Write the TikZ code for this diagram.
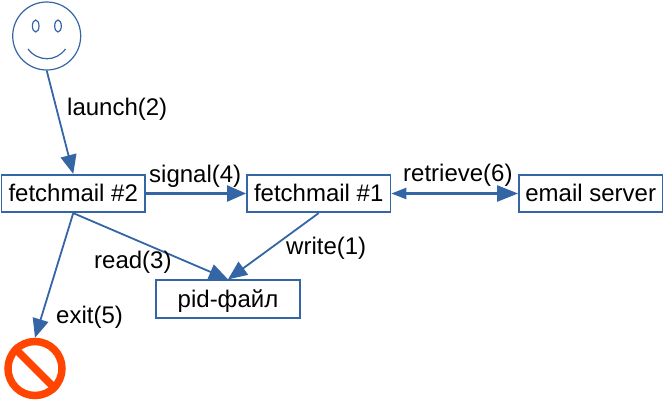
\documentclass[tikz,border=0pt]{standalone}
\usepackage{fontspec}
\setmainfont{Liberation Sans}
\usetikzlibrary{arrows.meta}
\definecolor{lineblue}{HTML}{3465A4}
\definecolor{stoporange}{HTML}{FF4500}
\tikzset{
  x=1pt,y=-1pt,
  boxnode/.style={draw=lineblue,line width=1.7pt,fill=white,inner sep=0pt,minimum width=143.5pt,minimum height=37.5pt,text height=19pt,text depth=2.6pt,font=\fontsize{24}{28}\selectfont},
  lbl/.style={anchor=base west,inner sep=0pt,font=\fontsize{24}{28}\selectfont},
  conn/.style={draw=lineblue,line width=1.8pt,-{Triangle[length=19pt,width=16pt]}},
  flat/.style={draw=lineblue,line width=2.2pt,-{Triangle[length=19pt,width=16pt]}},
  twoway/.style={draw=lineblue,line width=2.2pt,{Triangle[length=15pt,width=11pt]}-{Triangle[length=21pt,width=16pt]}},
  face/.style={draw=lineblue,line width=1.2pt},
  stopring/.style={circle,draw=stoporange,line width=7.5pt,minimum size=54pt,inner sep=0pt}
}
\begin{document}
\begin{tikzpicture}
\useasboundingbox (0,0) rectangle (663,401);
\node[circle,face,minimum size=68pt,inner sep=0pt] (smile) at (46.7,36) {};
\draw[face] (35.7,26) ellipse [x radius=3.3,y radius=6];
\draw[face] (58,26) ellipse [x radius=3.3,y radius=6];
\draw[face] (28,49) .. controls (38,62) and (56,62) .. (65.5,49);
\node[boxnode] (f2) at (73.25,193.5) {fetchmail \#2};
\node[boxnode] (f1) at (318.7,193.5) {fetchmail \#1};
\node[boxnode] (mail) at (590.7,193.5) {email server};
\node[boxnode] (pid) at (228,299) {pid-файл};
\node[stopring] (stop) at (35,368.5) {};
\draw[stoporange,line width=7.5pt] (stop.north west) -- (stop.south east);
\draw[conn] (smile.south) -- (f2.north);
\draw[flat] (f2.east) -- (f1.west);
\draw[twoway] (f1.east) -- (mail.west);
\draw[conn] (f2.south) -- (pid.north);
\draw[conn] (f1.south) -- (pid.north);
\draw[conn] (f2.south) -- (stop.north);
\node[lbl] (l1) at (67,115) {launch(2)};
\node[lbl] (l2) at (149,182) {signal(4)};
\node[lbl] (l3) at (403,181.7) {retrieve(6)};
\node[lbl] (l4) at (286,254) {write(1)};
\node[lbl] (l5) at (94,268.5) {read(3)};
\node[lbl] (l6) at (56,323) {exit(5)};
\end{tikzpicture}
\end{document}
